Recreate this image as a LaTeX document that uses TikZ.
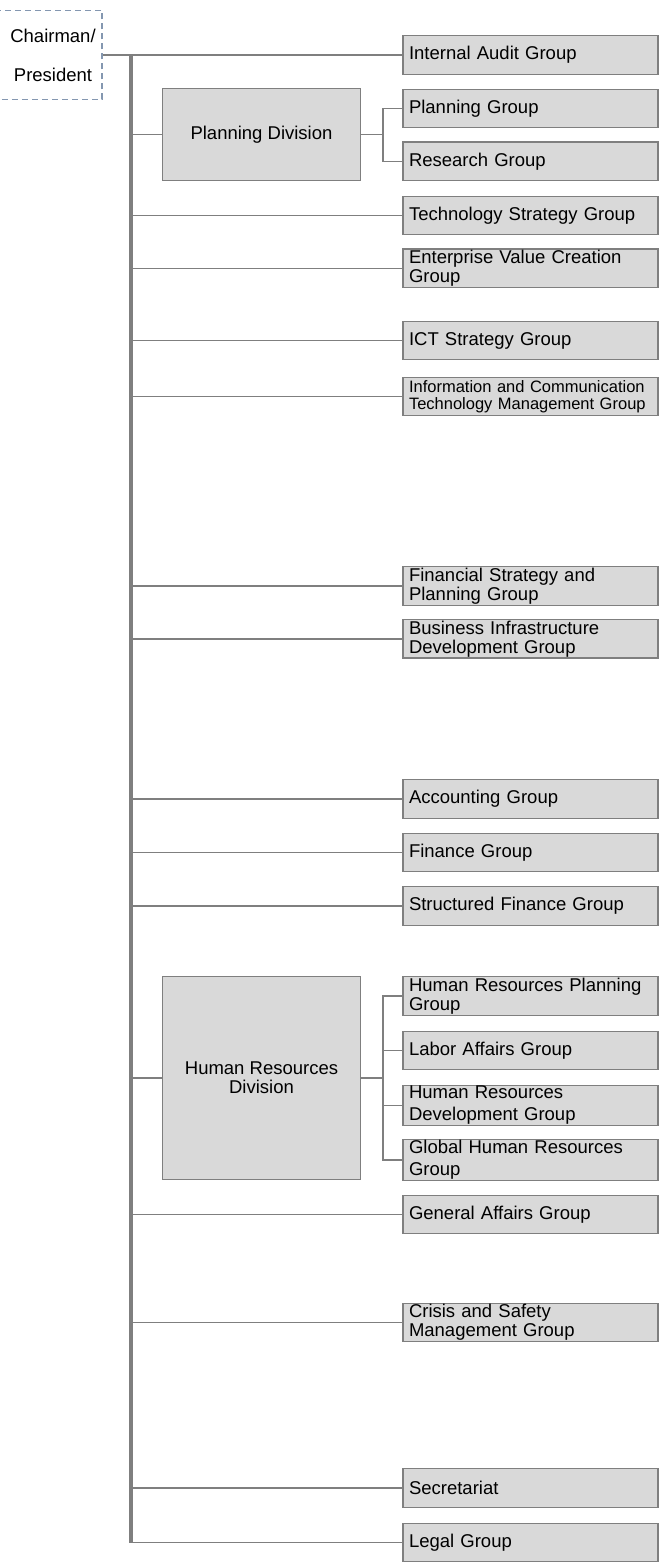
\documentclass[tikz,border=0pt]{standalone}
\usepackage{fontspec}
\setmainfont{Liberation Sans}
\usepackage{tikz}
\usetikzlibrary{positioning}
\definecolor{boxfill}{HTML}{D9D9D9}
\definecolor{boxline}{HTML}{7F7F7F}
\definecolor{chairline}{HTML}{8497B0}

\begin{document}
\begin{tikzpicture}[x=1bp, y=-1bp, line width=1.4bp, draw=boxline]
		\tikzstyle{grp}=[rectangle, draw=boxline, fill=boxfill, minimum width=255bp, minimum height=38.5bp, text width=243bp, inner xsep=6bp, inner ysep=1bp, align=left, font=\fontsize{18.5bp}{19bp}\selectfont]
		\tikzstyle{division}=[rectangle, draw=boxline, fill=boxfill, minimum width=197.5bp, align=center, font=\fontsize{18.5bp}{19bp}\selectfont]
		\tikzstyle{link}=[draw=boxline, line width=1.5bp]
		\useasboundingbox (0,0) rectangle (663,1566);

		\node[rectangle, draw=chairline, dash pattern=on 6bp off 4bp, minimum width=110bp, minimum height=89bp, label={[xshift=6bp, align=center, font=\fontsize{18.5bp}{19bp}\selectfont]center:Chairman/\\[20bp]President}] (chair) at (47,55) {};
		\coordinate (trunk) at (131,55);

		\node[grp] (audit) at (530.5,55) {Internal Audit Group};
		\path (chair) edge[link] (audit);

		\node[division, minimum height=91.5bp] (plandiv) at (261.5,134.5) {Planning Division};
		\node[grp] (plangrp) at (530.5,108.5) {Planning Group};
		\node[grp, below=13bp of plangrp] (research) {Research Group};
		\coordinate (planjunc) at (383,134.5);
		\path (plandiv) edge[link] (planjunc);
		\draw[link] (plangrp.west) -| (planjunc);
		\draw[link] (research.west) -| (planjunc);

		\node[grp] (techstrat) at (530.5,215.5) {Technology Strategy Group};
		\node[grp, below=13bp of techstrat] (evc) {Enterprise Value Creation\\Group};
		\node[grp] (ictstrat) at (530.5,340.5) {ICT Strategy Group};
		\node[grp, font=\fontsize{16.5bp}{17bp}\selectfont] (ictmgmt) at (530.5,396.5) {Information and Communication\\Technology Management Group};

		\node[grp] (finstrat) at (530.5,586) {Financial Strategy and\\Planning Group};
		\node[grp, below=13bp of finstrat] (bizinfra) {Business Infrastructure\\Development Group};

		\node[grp] (accounting) at (530.5,799) {Accounting Group};
		\node[grp] (finance) at (530.5,852.5) {Finance Group};
		\node[grp] (structfin) at (530.5,906) {Structured Finance Group};

		\node[division, minimum height=202.5bp] (hrdiv) at (261.5,1078) {Human Resources\\Division};
		\node[grp] (hrplan) at (530.5,996) {Human Resources Planning\\Group};
		\node[grp] (labor) at (530.5,1050.5) {Labor Affairs Group};
		\node[grp] (hrdev) at (530.5,1105.5) {Human Resources\\[3bp]Development Group};
		\node[grp] (globalhr) at (530.5,1160) {Global Human Resources\\[3bp]Group};
		\coordinate (hrjunc) at (383,1078);
		\path (hrdiv) edge[link] (hrjunc);
		\draw[link] (hrplan.west) -| (hrjunc);
		\draw[link] (labor.west) -| (hrjunc);
		\draw[link] (hrdev.west) -| (hrjunc);
		\draw[link] (globalhr.west) -| (hrjunc);

		\node[grp] (genaffairs) at (530.5,1214.5) {General Affairs Group};
		\node[grp] (crisis) at (530.5,1322.5) {Crisis and Safety\\Management Group};
		\node[grp] (secretariat) at (530.5,1488) {Secretariat};
		\node[grp] (legal) at (530.5,1542.5) {Legal Group};

		%main line
		\draw[draw=boxline, line width=3.2bp] (trunk) -- (trunk |- legal.west);
		\path (trunk |- plandiv.west) edge[link] (plandiv);
		\path (trunk |- techstrat.west) edge[link] (techstrat);
		\path (trunk |- evc.west) edge[link] (evc);
		\path (trunk |- ictstrat.west) edge[link] (ictstrat);
		\path (trunk |- ictmgmt.west) edge[link] (ictmgmt);
		\path (trunk |- finstrat.west) edge[link] (finstrat);
		\path (trunk |- bizinfra.west) edge[link] (bizinfra);
		\path (trunk |- accounting.west) edge[link] (accounting);
		\path (trunk |- finance.west) edge[link] (finance);
		\path (trunk |- structfin.west) edge[link] (structfin);
		\path (trunk |- hrdiv.west) edge[link] (hrdiv);
		\path (trunk |- genaffairs.west) edge[link] (genaffairs);
		\path (trunk |- crisis.west) edge[link] (crisis);
		\path (trunk |- secretariat.west) edge[link] (secretariat);
		\path (trunk |- legal.west) edge[link] (legal);
	\end{tikzpicture}
\end{document}
